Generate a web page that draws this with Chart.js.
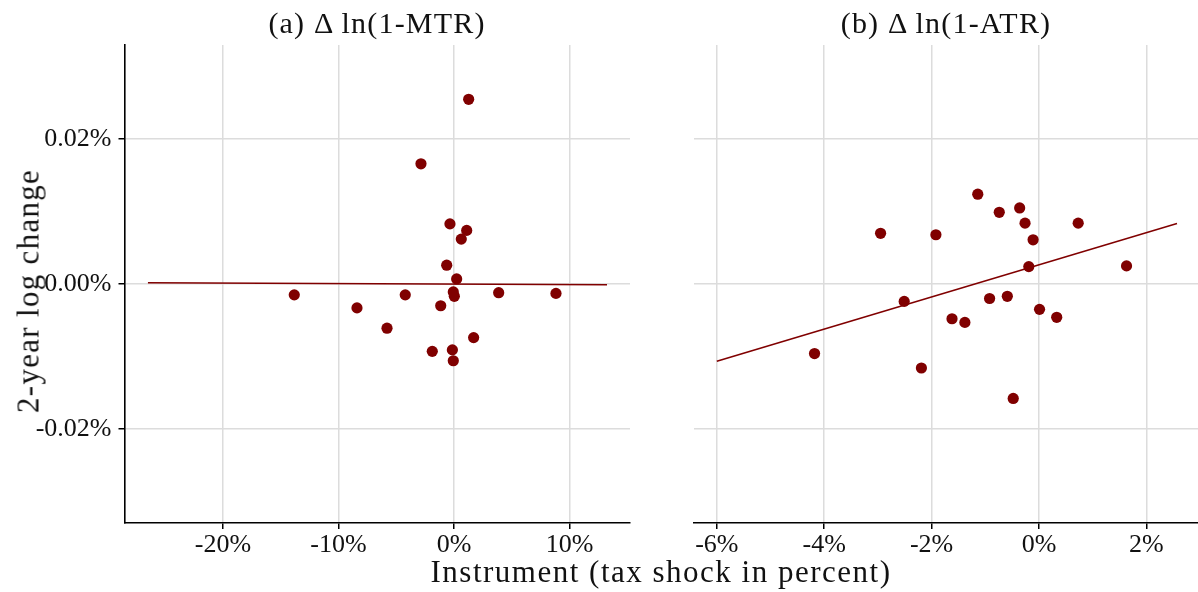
<!DOCTYPE html>
<html>
<head>
<meta charset="utf-8">
<script src="https://cdn.jsdelivr.net/npm/chart.js@4/dist/chart.umd.min.js"></script>
<style>
  html, body { margin: 0; padding: 0; background: #fff; }
  #wrap { position: relative; width: 1198px; height: 592px; overflow: hidden; font-family: "Liberation Serif", serif; color: #111; }
  canvas { position: absolute; top: 0; }
  .txt { position: absolute; white-space: nowrap; line-height: 1; }
  .panel-title { font-size: 30px; letter-spacing: 1.2px; transform: translateX(-50%); top: 8px; }
  #xtitle { font-size: 31px; letter-spacing: 1.5px; left: 661px; top: 556px; transform: translateX(-50%); }
  #ytitle { font-size: 31px; letter-spacing: 1.3px; left: 28px; top: 291px; transform: translate(-50%, -50%) rotate(-90deg); }
</style>
</head>
<body>
<div id="wrap">
  <canvas id="mtr" width="660" height="592" style="left:0;width:660px;height:592px"></canvas>
  <canvas id="atr" width="538" height="592" style="left:660px;width:538px;height:592px"></canvas>
  <div class="txt panel-title" style="left:377px">(a) Δ ln(1-MTR)</div>
  <div class="txt panel-title" style="left:946px">(b) Δ ln(1-ATR)</div>
  <div class="txt" id="xtitle">Instrument (tax shock in percent)</div>
  <div class="txt" id="ytitle">2-year log change</div>
</div>
<script>
// Panel (a): instrument for the marginal tax rate vs 2-year log change
const mtrShock  = [1.27, -2.86, -0.35, 1.10, 0.63, -0.63, 0.23, -13.83, -4.22, -0.06, 0.03, 3.87, 8.83, -8.40, -1.15, -5.80, 1.70, -1.88, -0.14, -0.06];
const mtrChange = [0.0255, 0.0166, 0.0083, 0.0074, 0.0062, 0.0026, 0.0007, -0.0015, -0.0015, -0.0011, -0.0017, -0.0012, -0.0013, -0.0033, -0.0030, -0.0061, -0.0074, -0.0093, -0.0091, -0.0106];
const mtrFitX = [-26.5, 13.25];
const mtrFitY = [0.00018, -0.0001];

// Panel (b): instrument for the average tax rate vs 2-year log change
const atrShock  = [-1.14, -0.74, -0.36, -0.26, 0.73, -2.95, -1.92, -0.11, -0.19, 1.63, -2.51, -0.92, -0.59, 0.01, -1.62, -1.38, 0.33, -4.18, -2.19, -0.48];
const atrChange = [0.0124, 0.0099, 0.0105, 0.0084, 0.0084, 0.0070, 0.0068, 0.0061, 0.0024, 0.0025, -0.0024, -0.0020, -0.0017, -0.0035, -0.0048, -0.0053, -0.0046, -0.0096, -0.0116, -0.0158];
const atrFitX = [-6.0, 2.57];
const atrFitY = [-0.01068, 0.00835];

// Tick positions (percent units)
const yTicks    = [-0.02, 0, 0.02];
const mtrXTicks = [-20, -10, 0, 10];
const atrXTicks = [-6, -4, -2, 0, 2];

const RED = '#800000';
const GRID = '#dcdcdc';
const tickFont = { family: 'Liberation Serif', size: 26 };

function pairs(xs, ys) { return xs.map((x, i) => ({ x: x, y: ys[i] })); }

function panel(id, xs, ys, fx, fy, xmin, xmax, xticks, showY, yWidth, padRight) {
  return new Chart(document.getElementById(id), {
    type: 'scatter',
    data: {
      datasets: [
        { data: pairs(xs, ys), pointRadius: 5.6, pointHoverRadius: 5.6, pointBorderWidth: 0,
          backgroundColor: RED, borderColor: RED, order: 2 },
        { data: pairs(fx, fy), showLine: true, pointRadius: 0, borderColor: RED,
          borderWidth: 1.6, fill: false, order: 1 }
      ]
    },
    options: {
      responsive: false,
      animation: false,
      devicePixelRatio: 1,
      layout: { autoPadding: false, padding: { top: 45, right: padRight, left: 0, bottom: 0 } },
      plugins: { legend: { display: false }, tooltip: { enabled: false }, title: { display: false } },
      scales: {
        x: {
          type: 'linear', min: xmin, max: xmax,
          afterBuildTicks: s => { s.ticks = xticks.map(v => ({ value: v })); },
          afterFit: s => { s.height = 69; },
          grid: { color: GRID, lineWidth: 1.5, tickColor: '#000', tickLength: 6, tickWidth: 1.5 },
          border: { display: true, color: '#000', width: 1.6 },
          ticks: { font: tickFont, color: '#111', padding: 1, maxRotation: 0, autoSkip: false,
                   callback: v => v + '%' }
        },
        y: {
          type: 'linear', min: -0.033, max: 0.033,
          afterBuildTicks: s => { s.ticks = yTicks.map(v => ({ value: v })); },
          afterFit: s => { s.width = yWidth; },
          grid: { color: GRID, lineWidth: 1.5, tickColor: '#000', tickLength: 6, tickWidth: 1.5,
                  drawTicks: showY },
          border: { display: showY, color: '#000', width: 1.6 },
          ticks: { display: showY, font: tickFont, color: '#111', padding: 7,
                   callback: v => v.toFixed(2) + '%' }
        }
      }
    }
  });
}

panel('mtr', mtrShock, mtrChange, mtrFitX, mtrFitY, -28.53, 15.24, mtrXTicks, true, 124.5, 30);
panel('atr', atrShock, atrChange, atrFitX, atrFitY, -6.434, 2.961, atrXTicks, false, 33.5, 0);
</script>
</body>
</html>
